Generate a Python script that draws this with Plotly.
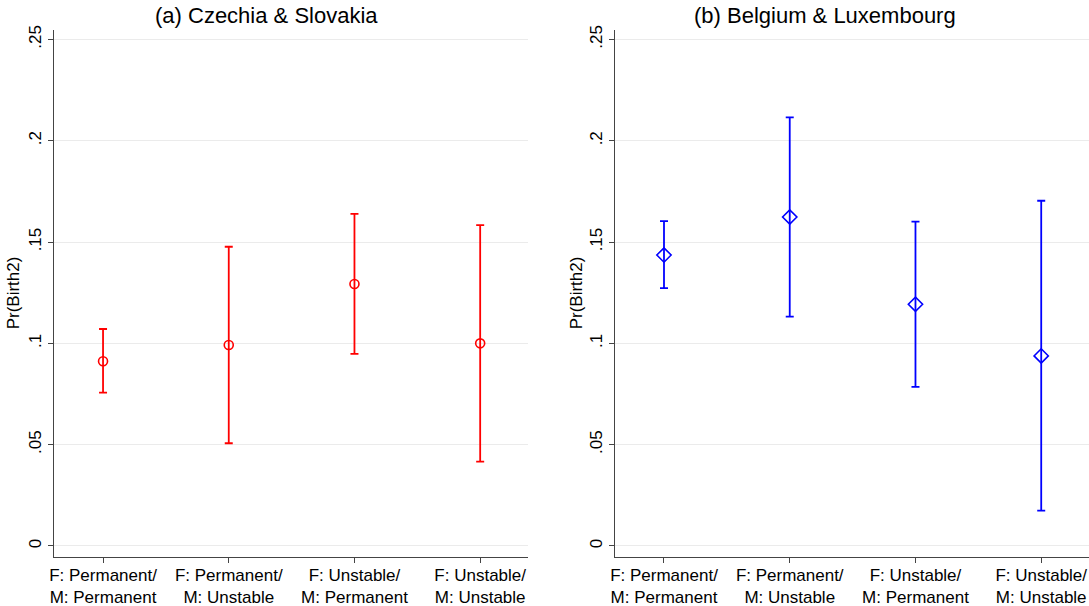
import plotly.graph_objects as go

# Predicted probability of a second birth, by couple employment-stability combination
categories = [
    "F: Permanent/<br>M: Permanent",
    "F: Permanent/<br>M: Unstable",
    "F: Unstable/<br>M: Permanent",
    "F: Unstable/<br>M: Unstable",
]

# (a) Czechia & Slovakia
cz_est = [0.0912, 0.0992, 0.1293, 0.1000]
cz_lo = [0.0757, 0.0507, 0.0948, 0.0416]
cz_hi = [0.1071, 0.1477, 0.1639, 0.1584]

# (b) Belgium & Luxembourg
be_est = [0.1436, 0.1624, 0.1193, 0.0938]
be_lo = [0.1273, 0.1132, 0.0785, 0.0174]
be_hi = [0.1603, 0.2116, 0.1601, 0.1704]

y_ticks = [0, 0.05, 0.1, 0.15, 0.2, 0.25]
y_ticktext = ["0", ".05", ".1", ".15", ".2", ".25"]

FONT = "Liberation Sans, Arial, sans-serif"
RED = "#ff0000"
BLUE = "#0000ff"
AXIS = "#444444"
GRID = "#ebebeb"

xpos = [1, 2, 3, 4]

fig = go.Figure()


def add_panel(est, lo, hi, color, symbol, size, xa, ya):
    fig.add_trace(go.Scatter(
        x=xpos, y=est,
        mode="markers",
        marker=dict(symbol=symbol, size=size, color=color,
                    line=dict(color=color, width=1.6)),
        error_y=dict(type="data", symmetric=False,
                     array=[h - e for h, e in zip(hi, est)],
                     arrayminus=[e - l for e, l in zip(est, lo)],
                     color=color, thickness=1.8, width=4),
        xaxis=xa, yaxis=ya, showlegend=False,
    ))


add_panel(cz_est, cz_lo, cz_hi, RED, "circle-open", 9, "x", "y")
add_panel(be_est, be_lo, be_hi, BLUE, "diamond-open", 11, "x2", "y2")

ydom = [0.0814, 0.9505]
xaxis_common = dict(
    range=[0.61, 4.38], tickmode="array", tickvals=xpos, ticktext=categories,
    showgrid=False, zeroline=False, showline=True, linecolor=AXIS, linewidth=1.2,
    ticks="outside", ticklen=5, tickcolor=AXIS, tickwidth=1.2,
    tickfont=dict(family=FONT, size=17, color="#000000"),
    ticklabelstandoff=-2,
    automargin=False, fixedrange=True,
)
yaxis_common = dict(
    range=[-0.0053, 0.2547], tickmode="array", tickvals=y_ticks, ticktext=y_ticktext,
    tickangle=-90, showgrid=True, gridcolor=GRID, gridwidth=1.2, zeroline=False,
    showline=True, linecolor=AXIS, linewidth=1.2,
    ticks="outside", ticklen=5, tickcolor=AXIS, tickwidth=1.2,
    tickfont=dict(family=FONT, size=17, color="#000000"),
    domain=ydom, automargin=False, fixedrange=True,
)

fig.update_layout(
    width=1089, height=606,
    margin=dict(l=0, r=0, t=0, b=0),
    paper_bgcolor="white", plot_bgcolor="white",
    font=dict(family=FONT, color="#000000"),
    xaxis=dict(xaxis_common, domain=[0.0496, 0.4848], anchor="y"),
    yaxis=dict(yaxis_common, anchor="x"),
    xaxis2=dict(xaxis_common, domain=[0.5647, 1.0], anchor="y2"),
    yaxis2=dict(yaxis_common, anchor="x2"),
)

titles = [("(a) Czechia & Slovakia", 266 / 1089),
          ("(b) Belgium & Luxembourg", 825 / 1089)]
for text, xc in titles:
    fig.add_annotation(text=text, x=xc, y=1 - 15 / 606, xref="paper", yref="paper",
                       xanchor="center", yanchor="middle", showarrow=False,
                       font=dict(family=FONT, size=22, color="#000000"))

for xp in [13 / 1089, 576 / 1089]:
    fig.add_annotation(text="Pr(Birth2)", x=xp, y=(ydom[0] + ydom[1]) / 2,
                       xref="paper", yref="paper", textangle=-90,
                       xanchor="center", yanchor="middle", showarrow=False,
                       font=dict(family=FONT, size=17, color="#000000"))

fig.write_html("out.html")
